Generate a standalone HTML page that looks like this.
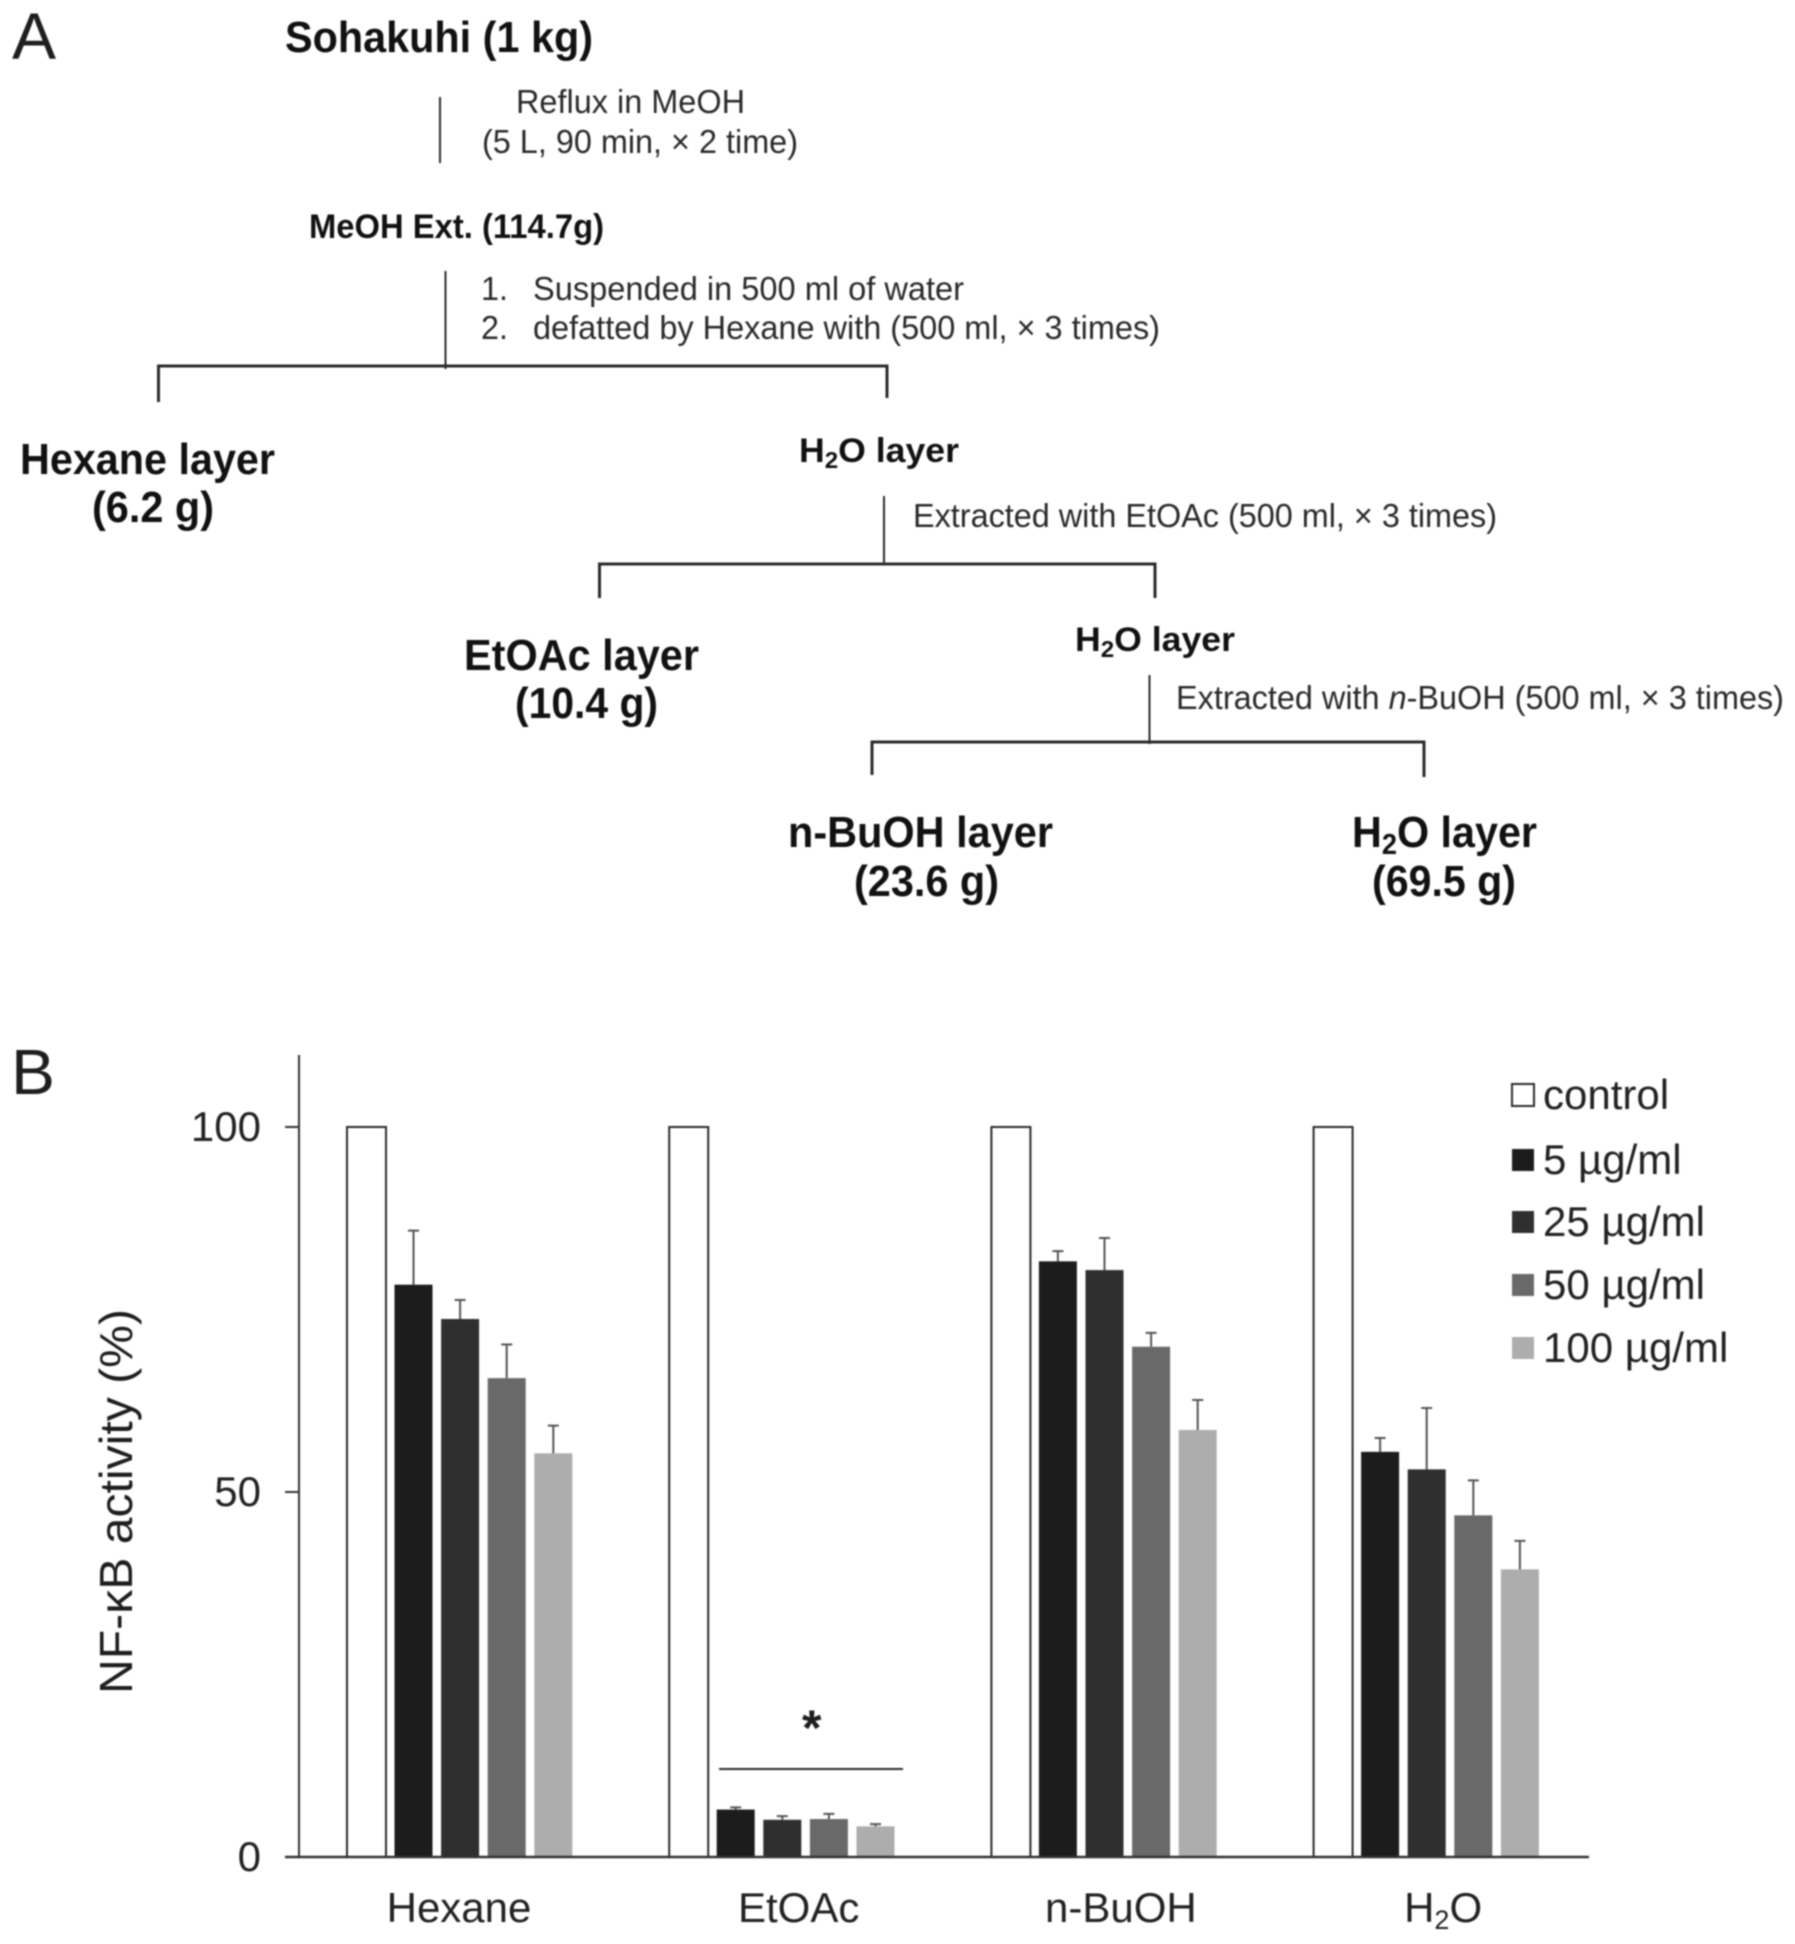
<!DOCTYPE html>
<html lang="en">
<head>
<meta charset="utf-8">
<title>Sohakuhi fractionation and NF-κB activity</title>
<style>
html,body{margin:0;padding:0;background:#fff;}
svg{display:block;filter:blur(0.8px);}
text{font-family:"Liberation Sans",sans-serif;fill:#1e1e1e;}
.b{font-weight:bold;fill:#111;}
.big{font-size:44px;}
.mid{font-size:34px;}
.note{font-size:33px;fill:#2a2a2a;}
.line{stroke:#2b2b2b;stroke-width:2;fill:none;}
.hline{stroke:#2b2b2b;stroke-width:3;fill:none;}
.tick{font-size:42px;fill:#222;}
</style>
</head>
<body>
<svg id="figure" xmlns="http://www.w3.org/2000/svg" width="1795" height="1944" viewBox="0 0 1795 1944">
<rect x="0" y="0" width="1795" height="1944" fill="#fff"/>
<g id="panel-a">
<text x="12" y="59" font-size="66" textLength="44" lengthAdjust="spacingAndGlyphs">A</text>
<text class="b big" x="285" y="52" textLength="308" lengthAdjust="spacingAndGlyphs">Sohakuhi (1 kg)</text>
<text class="note" x="516" y="113" textLength="229" lengthAdjust="spacingAndGlyphs">Reflux in MeOH</text>
<text class="note" x="482" y="153" textLength="316" lengthAdjust="spacingAndGlyphs">(5 L, 90 min, × 2 time)</text>
<line class="line" x1="440" y1="97" x2="440" y2="163"/>
<text class="b mid" x="309" y="238" textLength="295" lengthAdjust="spacingAndGlyphs">MeOH Ext. (114.7g)</text>
<line class="line" x1="445.5" y1="271" x2="445.5" y2="369"/>
<text class="note" x="481" y="300" textLength="27" lengthAdjust="spacingAndGlyphs">1.</text>
<text class="note" x="533" y="300" textLength="431" lengthAdjust="spacingAndGlyphs">Suspended in 500 ml of water</text>
<text class="note" x="481" y="339" textLength="27" lengthAdjust="spacingAndGlyphs">2.</text>
<text class="note" x="533" y="339" textLength="627" lengthAdjust="spacingAndGlyphs">defatted by Hexane with (500 ml, × 3 times)</text>
<path class="hline" d="M158.5 402V366H887V398"/>
<text class="b big" x="20" y="474" textLength="255" lengthAdjust="spacingAndGlyphs">Hexane layer</text>
<text class="b big" x="92" y="522" textLength="122" lengthAdjust="spacingAndGlyphs">(6.2 g)</text>
<text class="b mid" x="799" y="462" textLength="160" lengthAdjust="spacingAndGlyphs">H<tspan font-size="23" dy="6">2</tspan><tspan dy="-6">O layer</tspan></text>
<line class="line" x1="884" y1="496" x2="884" y2="564"/>
<text class="note" x="913" y="527" textLength="584" lengthAdjust="spacingAndGlyphs">Extracted with EtOAc (500 ml, × 3 times)</text>
<path class="hline" d="M599.5 598V564H1155V598"/>
<text class="b big" x="464" y="670" textLength="235" lengthAdjust="spacingAndGlyphs">EtOAc layer</text>
<text class="b big" x="515" y="718" textLength="143" lengthAdjust="spacingAndGlyphs">(10.4 g)</text>
<text class="b mid" x="1075" y="651" textLength="160" lengthAdjust="spacingAndGlyphs">H<tspan font-size="23" dy="6">2</tspan><tspan dy="-6">O layer</tspan></text>
<line class="line" x1="1149.5" y1="675" x2="1149.5" y2="744"/>
<text class="note" x="1176" y="709" textLength="608" lengthAdjust="spacingAndGlyphs">Extracted with <tspan font-style="italic">n</tspan>-BuOH (500 ml, × 3 times)</text>
<path class="hline" d="M872 775V742H1424V777"/>
<text class="b big" x="788" y="847" textLength="265" lengthAdjust="spacingAndGlyphs">n-BuOH layer</text>
<text class="b big" x="854" y="896" textLength="145" lengthAdjust="spacingAndGlyphs">(23.6 g)</text>
<text class="b big" x="1352" y="847" textLength="185" lengthAdjust="spacingAndGlyphs">H<tspan font-size="29" dy="7">2</tspan><tspan dy="-7">O layer</tspan></text>
<text class="b big" x="1372" y="896" textLength="144" lengthAdjust="spacingAndGlyphs">(69.5 g)</text>
</g>
<g id="panel-b">
<text x="11" y="1094" font-size="64" textLength="44" lengthAdjust="spacingAndGlyphs">B</text>
<text transform="translate(132 1694) rotate(-90)" x="0" y="0" font-size="46" textLength="385" lengthAdjust="spacingAndGlyphs" fill="#222">NF-κB activity (%)</text>
<g id="bars"></g>
<g id="axes"></g>
<line x1="719" y1="1769" x2="903" y2="1769" stroke="#2b2b2b" stroke-width="2"/>
<text x="802" y="1745" font-size="50" font-weight="bold" fill="#111">*</text>
<g id="legend"></g>
</g>
</svg>
<script>
const categories = ["Hexane", "EtOAc", "n-BuOH", "H2O"];
const seriesNames = ["control", "5 µg/ml", "25 µg/ml", "50 µg/ml", "100 µg/ml"];
const controlValues = [100, 100, 100, 100];
const values5 = [78.4, 6.5, 81.6, 55.5];
const values25 = [73.7, 5.1, 80.4, 53.1];
const values50 = [65.6, 5.2, 69.9, 46.8];
const values100 = [55.3, 4.2, 58.5, 39.4];
const errors5 = [7.4, 0.3, 1.4, 1.9];
const errors25 = [2.6, 0.5, 4.4, 8.4];
const errors50 = [4.6, 0.7, 1.9, 4.8];
const errors100 = [3.8, 0.3, 4.1, 3.9];
const yTicks = [0, 50, 100];

const seriesValues = [controlValues, values5, values25, values50, values100];
const seriesErrors = [null, errors5, errors25, errors50, errors100];
const seriesColors = ["#ffffff", "#1c1c1c", "#2f2f2f", "#696969", "#adadad"];
const NS = "http://www.w3.org/2000/svg";

function yScale(v) { return 1857 - v * 7.3; }
function groupX(g) { return 347 + g * 322.2; }
function barX(g, s) { return s === 0 ? groupX(g) : groupX(g) + 47.5 + (s - 1) * 46.6; }
function labelX(g) { return groupX(g) + (g === 0 ? 112 : 129.5); }
function make(tag, parent, attrs) {
  const el = document.createElementNS(NS, tag);
  for (const k in attrs) el.setAttribute(k, attrs[k]);
  parent.appendChild(el);
  return el;
}

const barsG = document.getElementById("bars");
const axesG = document.getElementById("axes");
const legendG = document.getElementById("legend");

categories.forEach(function (cat, g) {
  seriesValues.forEach(function (vals, s) {
    const x = barX(g, s);
    const w = s === 0 ? 39 : 38;
    const isControl = s === 0;
    const bar = make("rect", barsG, {
      x: x, y: yScale(vals[g]), width: w, height: yScale(0) - yScale(vals[g]),
      fill: seriesColors[s],
      stroke: isControl ? "#2b2b2b" : "none",
      "stroke-width": isControl ? 2 : 0
    });
    
    
    const errs = seriesErrors[s];
    if (errs) {
      const cx = x + w / 2;
      const top = yScale(vals[g] + errs[g]);
      const err = make("path", barsG, {
        d: "M" + cx + " " + yScale(vals[g]) + "V" + top + "M" + (cx - 5.5) + " " + top + "H" + (cx + 5.5),
        stroke: "#555", "stroke-width": 2, fill: "none"
      });
      
      
    }
  });
});

const yAxis = make("line", axesG, { x1: 299, y1: 1055, x2: 299, y2: yScale(0), stroke: "#333", "stroke-width": 2 });


const xAxis = make("line", axesG, { x1: 285, y1: yScale(0), x2: 1589, y2: yScale(0), stroke: "#333", "stroke-width": 2.5 });



yTicks.forEach(function (t) {
  const mark = make("line", axesG, { x1: 285, y1: yScale(t), x2: 299, y2: yScale(t), stroke: "#333", "stroke-width": 2 });
  
  
  const label = make("text", axesG, { x: 261, y: yScale(t) + 14, "text-anchor": "end", "class": "tick" });
  
  
  label.textContent = String(t);
});

categories.forEach(function (cat, g) {
  const label = make("text", axesG, { x: labelX(g), y: 1922, "text-anchor": "middle", "class": "tick", "font-size": 41 });
  
  
  const m = cat.match(/^(\D+)(\d)(\D+)$/);
  if (m) {
    make("tspan", label, {}).textContent = m[1];
    make("tspan", label, { "font-size": 27, dy: 7 }).textContent = m[2];
    make("tspan", label, { dy: -7 }).textContent = m[3];
  } else {
    label.textContent = cat;
  }
});

const legendRowY = [1095, 1160, 1222, 1285, 1348];
seriesNames.forEach(function (name, s) {
  const swatch = make("rect", legendG, {
    x: 1512, y: legendRowY[s] - 11, width: 22, height: 22,
    fill: seriesColors[s],
    stroke: s === 0 ? "#2b2b2b" : "none",
    "stroke-width": s === 0 ? 2 : 0
  });
  
  
  const label = make("text", legendG, { x: 1543, y: legendRowY[s] + 14, "class": "tick", "font-size": 42.5 });
  
  
  label.textContent = name;
});
</script>
</body>
</html>
